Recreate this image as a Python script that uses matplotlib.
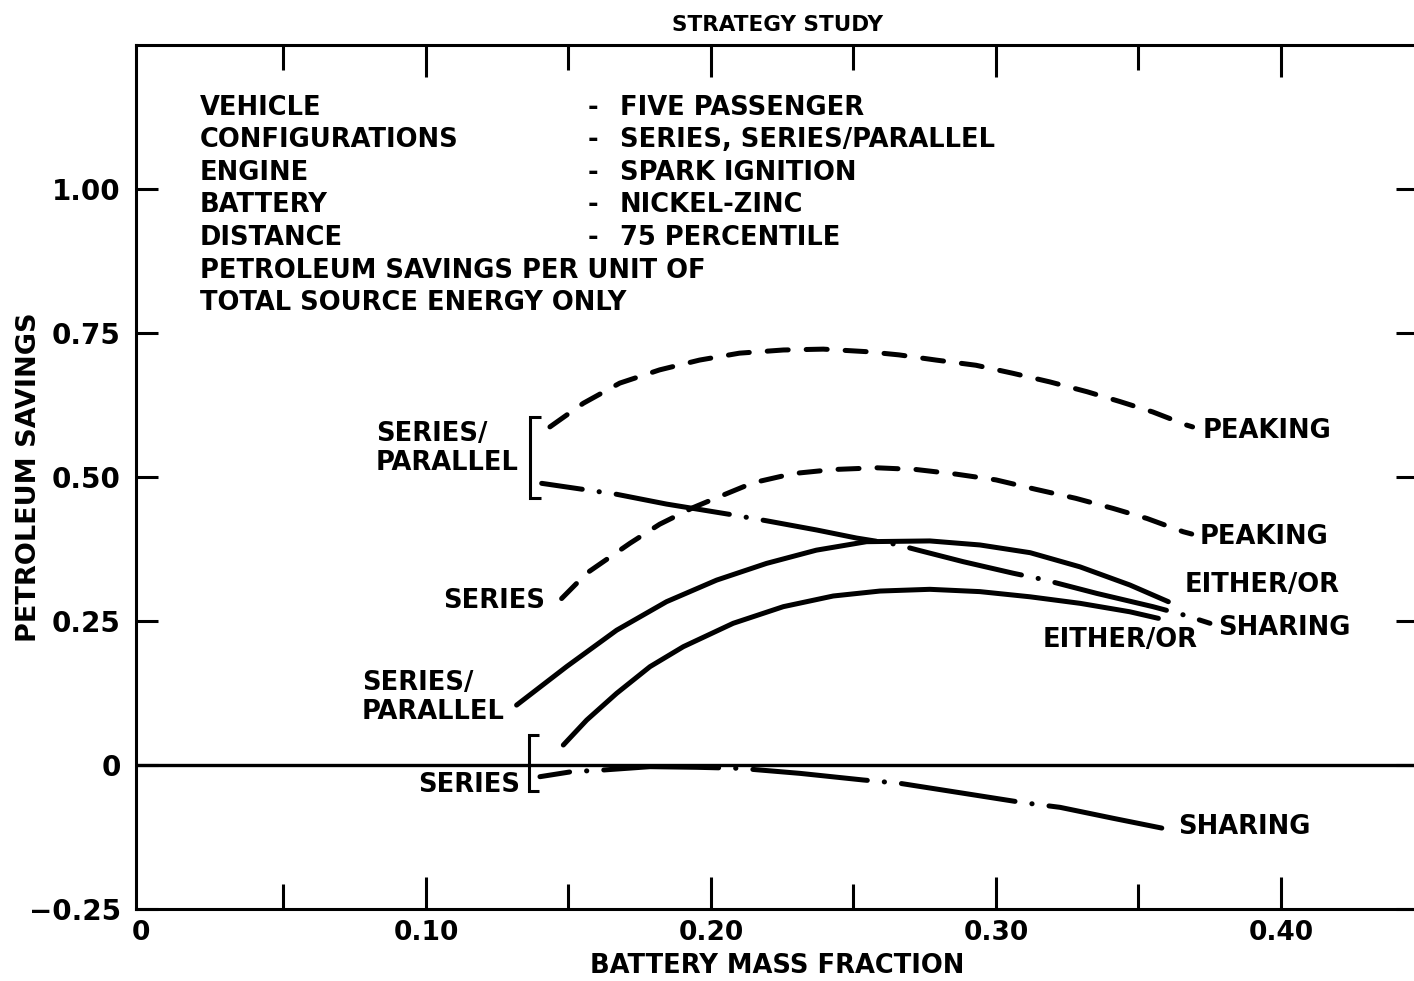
import matplotlib
matplotlib.use("Agg")
import matplotlib.pyplot as plt
from matplotlib.ticker import MultipleLocator, FixedLocator

plt.rcParams['font.family'] = ['DejaVu Sans']
plt.rcParams['font.weight'] = 'bold'
plt.rcParams['axes.titleweight'] = 'bold'
plt.rcParams['axes.labelweight'] = 'bold'

# Battery mass fraction vs petroleum savings, per configuration / strategy
sp_peak_x = [0.1435, 0.1552, 0.168, 0.182, 0.196, 0.210, 0.2254, 0.2394, 0.2546, 0.266,
             0.279, 0.293, 0.306, 0.319, 0.332, 0.3435, 0.355, 0.367, 0.369]
sp_peak_y = [0.587, 0.628, 0.663, 0.686, 0.703, 0.715, 0.7205, 0.722, 0.7176, 0.712,
             0.703, 0.694, 0.680, 0.665, 0.648, 0.631, 0.613, 0.590, 0.587]

s_peak_x = [0.1476, 0.1564, 0.1716, 0.182, 0.1938, 0.203, 0.2148, 0.2289, 0.243, 0.2581,
            0.272, 0.286, 0.300, 0.314, 0.328, 0.341, 0.353, 0.3657, 0.3687]
s_peak_y = [0.289, 0.333, 0.385, 0.418, 0.447, 0.466, 0.490, 0.506, 0.513, 0.516,
            0.513, 0.505, 0.495, 0.4786, 0.463, 0.4456, 0.428, 0.405, 0.401]

sp_share_x = [0.1406, 0.155, 0.1669, 0.1844, 0.2067, 0.2195, 0.2371, 0.2511, 0.265,
              0.2727, 0.2885, 0.306, 0.3166, 0.3353, 0.355, 0.3663, 0.3751]
sp_share_y = [0.489, 0.4786, 0.470, 0.453, 0.435, 0.424, 0.408, 0.394, 0.383,
              0.373, 0.353, 0.333, 0.322, 0.298, 0.275, 0.260, 0.246]

sp_either_x = [0.1318, 0.1494, 0.1669, 0.1844, 0.202, 0.2195, 0.237, 0.2546, 0.2768,
               0.2944, 0.312, 0.3295, 0.347, 0.3605]
sp_either_y = [0.104, 0.171, 0.234, 0.2835, 0.321, 0.350, 0.373, 0.3877, 0.389,
               0.382, 0.3686, 0.344, 0.3125, 0.2835]

s_either_x = [0.1482, 0.1564, 0.1669, 0.1786, 0.1903, 0.2078, 0.2254, 0.2429, 0.2593,
              0.2768, 0.2944, 0.312, 0.3295, 0.347, 0.357]
s_either_y = [0.0347, 0.078, 0.1244, 0.1707, 0.2054, 0.246, 0.2749, 0.2934, 0.302,
              0.305, 0.301, 0.292, 0.2807, 0.266, 0.2546]

s_share_x = [0.140, 0.1511, 0.1622, 0.1786, 0.195, 0.2102, 0.2312, 0.2534, 0.2663,
             0.2885, 0.3096, 0.3225, 0.3412, 0.3587]
s_share_y = [-0.0203, -0.0116, -0.0087, -0.0029, -0.004, -0.0058, -0.0145, -0.026, -0.0318,
             -0.049, -0.0654, -0.0735, -0.0926, -0.110]

x_tick_vals = [0.0, 0.10, 0.20, 0.30, 0.40]
x_tick_text = ["0", "0.10", "0.20", "0.30", "0.40"]
y_tick_vals = [-0.25, 0.0, 0.25, 0.50, 0.75, 1.00]
y_tick_text = ["\u22120.25", "0", "0.25", "0.50", "0.75", "1.00"]

info_keys = ["VEHICLE", "CONFIGURATIONS", "ENGINE", "BATTERY", "DISTANCE"]
info_vals = ["FIVE PASSENGER", "SERIES, SERIES/PARALLEL", "SPARK IGNITION",
             "NICKEL-ZINC", "75 PERCENTILE"]
info_note = ["PETROLEUM SAVINGS PER UNIT OF", "TOTAL SOURCE ENERGY ONLY"]

W, H = 1414, 981
fig = plt.figure(figsize=(W / 100, H / 100), dpi=100)
ax = fig.add_axes([136 / W, 1 - 909 / H, (1418 - 136) / W, (909 - 45) / H])
ax.set_xlim(-0.00175, 0.4481)
ax.set_ylim(-0.25, 1.25)

LW = 3.6
style = dict(color="black", lw=LW, dash_capstyle="round", solid_capstyle="round")
dashed = (0, (4.2, 3.6))
dashdot_pattern = (23, 3.4, 0.05, 3.4)
ax.plot(sp_peak_x, sp_peak_y, linestyle=dashed, **style)
ax.plot(s_peak_x, s_peak_y, linestyle=dashed, **style)
ax.plot(sp_share_x, sp_share_y, linestyle=(14.8, dashdot_pattern), **style)
ax.plot(s_share_x, s_share_y, linestyle=(17, dashdot_pattern), **style)
ax.plot(sp_either_x, sp_either_y, **style)
ax.plot(s_either_x, s_either_y, **style)

ax.axhline(0, color="black", lw=2.4)


# bracket grouping the start of each configuration's curves
def bracket(xs, ys):
    bx = min(xs) - 0.004
    top = max(ys) + 0.018
    bot = min(ys) - 0.025
    ax.plot([bx + 0.0038, bx, bx, bx + 0.0038], [top, top, bot, bot],
            color="black", lw=2.2, solid_joinstyle="miter", solid_capstyle="butt")


bracket([sp_peak_x[0], sp_share_x[0]], [sp_peak_y[0], sp_share_y[0]])
bracket([s_either_x[0], s_share_x[0]], [s_either_y[0], s_share_y[0]])

fs = 18.5
ax.text(0.0825, 0.549, "SERIES/\nPARALLEL", fontsize=fs, ha="left", va="center", linespacing=1.15)
ax.text(0.1418, 0.285, "SERIES", fontsize=fs, ha="right", va="center")
ax.text(0.0775, 0.118, "SERIES/\nPARALLEL", fontsize=fs, ha="left", va="center", linespacing=1.15)
ax.text(0.133, -0.035, "SERIES", fontsize=fs, ha="right", va="center")
ax.text(0.3726, 0.580, "PEAKING", fontsize=fs, ha="left", va="center")
ax.text(0.3716, 0.396, "PEAKING", fontsize=fs, ha="left", va="center")
ax.text(0.3663, 0.3125, "EITHER/OR", fontsize=fs, ha="left", va="center")
ax.text(0.378, 0.238, "SHARING", fontsize=fs, ha="left", va="center")
ax.text(0.3165, 0.217, "EITHER/OR", fontsize=fs, ha="left", va="center")
ax.text(0.364, -0.108, "SHARING", fontsize=fs, ha="left", va="center")

# description block
row0 = 1.141
step = 0.0565
for i, (k, v) in enumerate(zip(info_keys, info_vals)):
    y = row0 - i * step
    ax.text(0.0207, y, k, fontsize=fs, ha="left", va="center")
    ax.text(0.1585, y, "-", fontsize=fs, ha="center", va="center")
    ax.text(0.168, y, v, fontsize=fs, ha="left", va="center")
for j, line in enumerate(info_note):
    y = row0 - (len(info_keys) + j) * step
    ax.text(0.0207, y, line, fontsize=fs, ha="left", va="center")

# axes frame and ticks
for s in ax.spines.values():
    s.set_linewidth(2.2)
ax.xaxis.set_major_locator(FixedLocator(x_tick_vals))
ax.xaxis.set_minor_locator(MultipleLocator(0.05))
ax.set_xticklabels(x_tick_text)
ax.yaxis.set_major_locator(FixedLocator(y_tick_vals))
ax.yaxis.set_minor_locator(FixedLocator([]))
ax.set_yticklabels(y_tick_text)
ax.tick_params(axis="x", which="major", direction="in", top=True, bottom=True,
               length=23, width=2.2, labelsize=19, pad=8)
ax.tick_params(axis="x", which="minor", direction="in", top=True, bottom=True,
               length=18, width=2.2)
ax.tick_params(axis="y", which="major", direction="in", left=True, right=True,
               length=16, width=2.2, labelsize=20, pad=11)
# the origin tick would sit on the left spine; keep only its label
origin_tick = ax.xaxis.get_major_ticks()[0]
origin_tick.tick1line.set_visible(False)
origin_tick.tick2line.set_visible(False)

ax.set_xlabel("BATTERY MASS FRACTION", fontsize=18.5, labelpad=5)
ax.set_ylabel("PETROLEUM SAVINGS", fontsize=19.5)
ax.yaxis.set_label_coords(-0.0735, 0.5)
ax.set_title("STRATEGY STUDY", fontsize=15.5, pad=10)

fig.savefig("out.png", dpi=100, facecolor="white")
